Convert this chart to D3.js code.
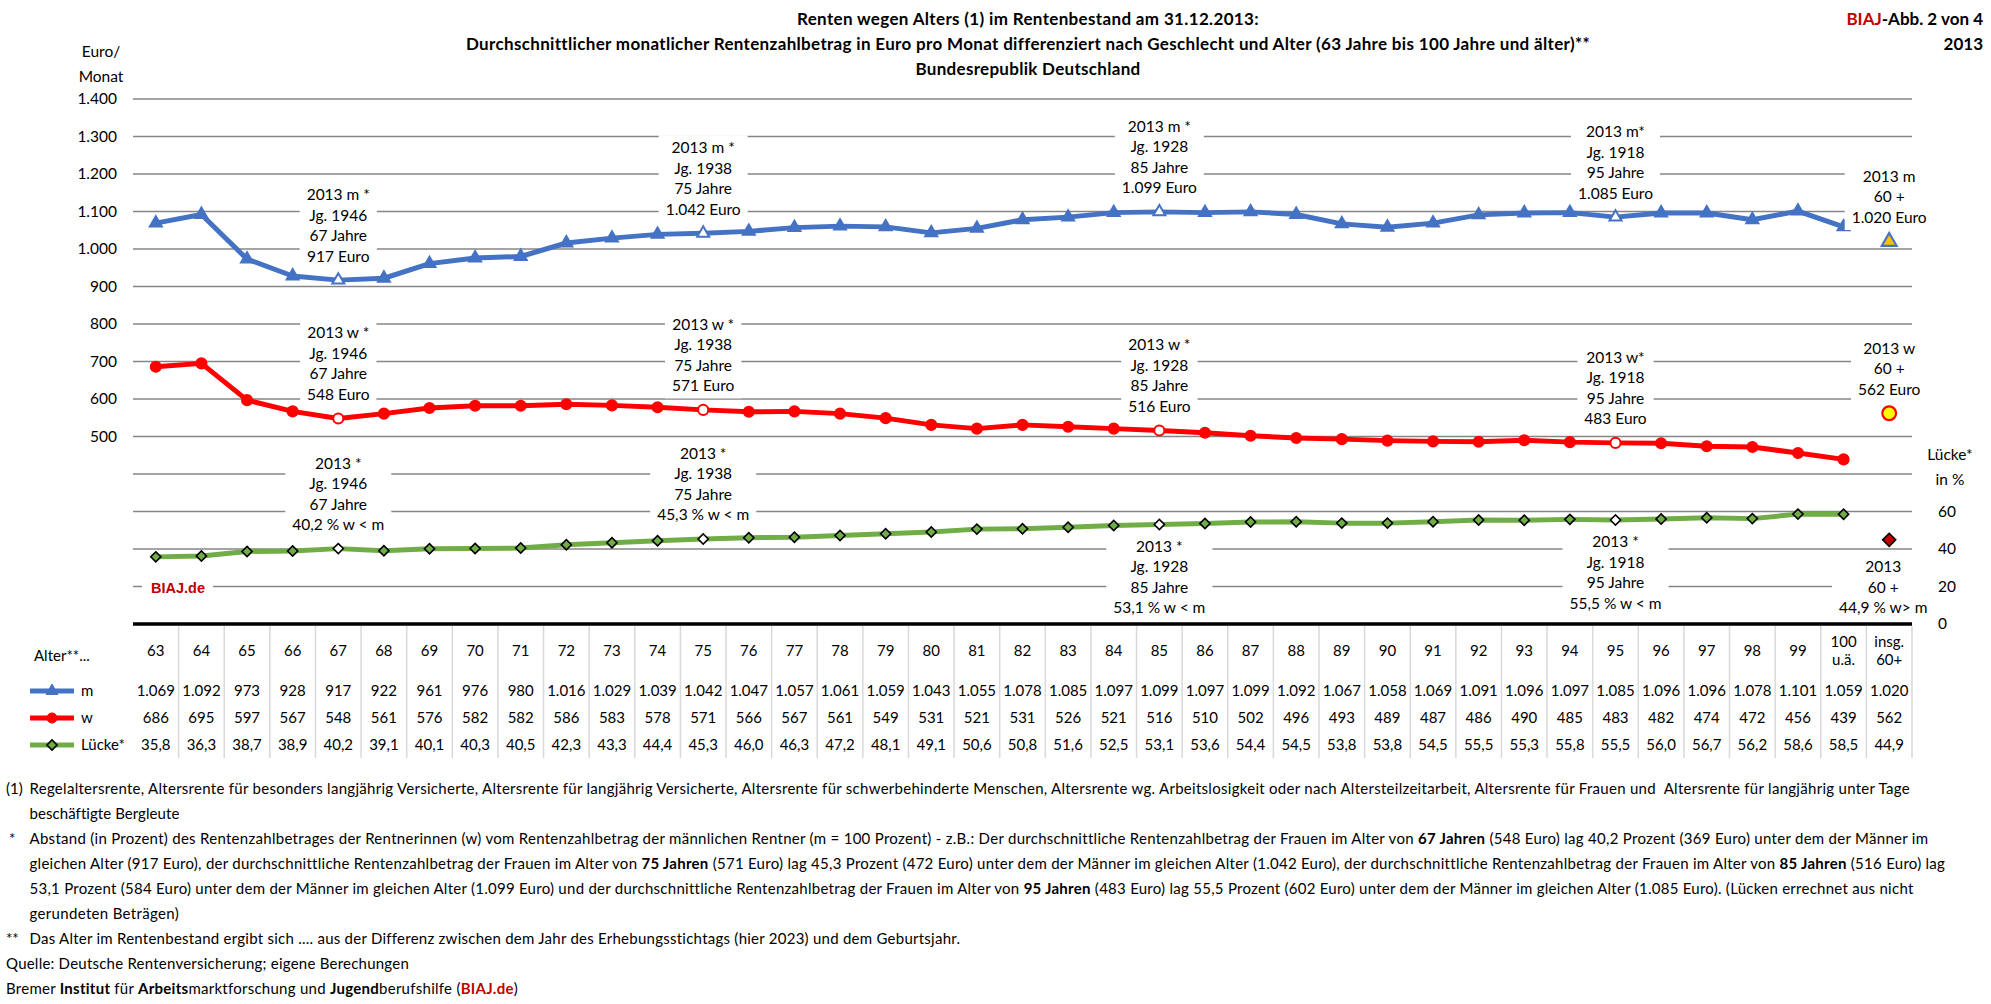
<!DOCTYPE html>
<html><head><meta charset="utf-8">
<script src="https://cdn.jsdelivr.net/npm/d3@7"></script>
<style>
body{margin:0;background:#fff;}
svg{display:block;font-family:Lato,'Open Sans',sans-serif;}
</style></head><body>
<svg id="chart" width="1991" height="1004"></svg>
<script>
// ---------- data ----------
const categories = ["63","64","65","66","67","68","69","70","71","72","73","74","75","76","77","78","79","80",
  "81","82","83","84","85","86","87","88","89","90","91","92","93","94","95","96","97","98","99","100 u.ä.","insg. 60+"];
const mValues = [1069,1092,973,928,917,922,961,976,980,1016,1029,1039,1042,1047,1057,1061,1059,1043,
  1055,1078,1085,1097,1099,1097,1099,1092,1067,1058,1069,1091,1096,1097,1085,1096,1096,1078,1101,1059,1020];
const wValues = [686,695,597,567,548,561,576,582,582,586,583,578,571,566,567,561,549,531,
  521,531,526,521,516,510,502,496,493,489,487,486,490,485,483,482,474,472,456,439,562];
const gapValues = [35.8,36.3,38.7,38.9,40.2,39.1,40.1,40.3,40.5,42.3,43.3,44.4,45.3,46.0,46.3,47.2,48.1,49.1,
  50.6,50.8,51.6,52.5,53.1,53.6,54.4,54.5,53.8,53.8,54.5,55.5,55.3,55.8,55.5,56.0,56.7,56.2,58.6,58.5,44.9];
const highlightAges = ["67","75","85","95"];
const totalCategory = "insg. 60+";
const leftTickValues = [500,600,700,800,900,1000,1100,1200,1300,1400];
const gridValues = [100,200,300,400,500,600,700,800,900,1000,1100,1200,1300,1400];
const rightTickValues = [0,20,40,60];
const surveyYear = 2013;

// ---------- layout ----------
const PL = 133, PR = 1912, PT = 99, PB = 624;
const C = {m:"#4472C4", w:"#FF0000", g:"#70AD47", grid:"#868686", red:"#C00000"};
const svg = d3.select("#chart");
const loc = d3.formatLocale({decimal:",", thousands:".", grouping:[3], currency:["","€"]});
const fInt = loc.format(",d"), fDec = loc.format(",.1f");

const x = d3.scalePoint().domain(categories).range([PL, PR]).padding(0.5);
const step = x.step();
const yL = d3.scaleLinear().domain([0,1400]).range([PB, PT]);
const yR = d3.scaleLinear().domain([0,280]).range([PB, PT]);

const rows = categories.map((c,i)=>({c, m:mValues[i], w:wValues[i], g:gapValues[i]}));
const lineRows = rows.filter(r=>r.c!==totalCategory);
const totalRow = rows.find(r=>r.c===totalCategory);

function fitWidth(sel, target){
  const n = sel.node(); const nat = n.getComputedTextLength();
  const len = n.textContent.length;
  sel.attr("letter-spacing", ((target-nat)/len).toFixed(3));
}

// gridlines
svg.append("g").selectAll("line").data(gridValues).join("line")
  .attr("x1",PL).attr("x2",PR).attr("y1",d=>yL(d)).attr("y2",d=>yL(d))
  .attr("stroke",C.grid).attr("stroke-width",1.5);

// left axis labels
svg.append("g").selectAll("text").data(leftTickValues).join("text")
  .attr("x",117).attr("y",d=>yL(d)).attr("dy","0.35em").attr("text-anchor","end")
  .attr("font-size",15.5).attr("fill","#000").text(d=>fInt(d));
svg.append("text").attr("x",101).attr("y",52).attr("dy","0.35em").attr("text-anchor","middle").attr("font-size",15.5).text("Euro/");
svg.append("text").attr("x",101).attr("y",77).attr("dy","0.35em").attr("text-anchor","middle").attr("font-size",15.5).text("Monat");

// right axis labels
svg.append("g").selectAll("text").data(rightTickValues).join("text")
  .attr("x",1938).attr("y",d=>yR(d)).attr("dy","0.35em").attr("text-anchor","start")
  .attr("font-size",15.5).text(d=>d);
svg.append("text").attr("x",1950).attr("y",455).attr("dy","0.35em").attr("text-anchor","middle").attr("font-size",15.5).text("Lücke*");
svg.append("text").attr("x",1950).attr("y",480).attr("dy","0.35em").attr("text-anchor","middle").attr("font-size",15.5).text("in %");

// watermark
const wm = svg.append("g");
wm.append("rect").attr("x",142).attr("y",578).attr("width",71).attr("height",20).attr("fill","#fff");
wm.append("text").attr("x",151).attr("y",588).attr("dy","0.35em").attr("font-family","'Liberation Sans',Arial,sans-serif")
  .attr("font-weight","bold").attr("font-size",14.5).attr("fill",C.red).text("BIAJ.de");

// x axis line
svg.append("line").attr("x1",PL).attr("x2",PR).attr("y1",PB).attr("y2",PB).attr("stroke","#000").attr("stroke-width",3.5);

// table separators
svg.append("g").selectAll("line").data(categories).join("line")
  .attr("x1",d=>x(d)+step/2).attr("x2",d=>x(d)+step/2).attr("y1",PB+2).attr("y2",758)
  .attr("stroke","#D9D9D9").attr("stroke-width",1.5);

// series lines
const lineM = d3.line().x(d=>x(d.c)).y(d=>yL(d.m));
const lineW = d3.line().x(d=>x(d.c)).y(d=>yL(d.w));
const lineG = d3.line().x(d=>x(d.c)).y(d=>yR(d.g));
svg.append("path").datum(lineRows).attr("d",lineM).attr("fill","none").attr("stroke",C.m).attr("stroke-width",5).attr("stroke-linejoin","round");
svg.append("path").datum(lineRows).attr("d",lineW).attr("fill","none").attr("stroke",C.w).attr("stroke-width",5).attr("stroke-linejoin","round");
svg.append("path").datum(lineRows).attr("d",lineG).attr("fill","none").attr("stroke",C.g).attr("stroke-width",5).attr("stroke-linejoin","round");

// markers
const tri = d3.symbol(d3.symbolTriangle, 62)();
const triBig = d3.symbol(d3.symbolTriangle, 95)();
const circ = d3.symbol(d3.symbolCircle, 80)();
const circBig = d3.symbol(d3.symbolCircle, 150)();
const dia = d3.symbol(d3.symbolSquare, 52)();
const diaBig = d3.symbol(d3.symbolSquare, 85)();
const isHi = c=>highlightAges.includes(c);

svg.append("g").selectAll("path").data(lineRows).join("path")
  .attr("d",tri).attr("transform",d=>`translate(${x(d.c)},${yL(d.m)})`)
  .attr("fill",d=>isHi(d.c)?"#fff":C.m).attr("stroke",C.m).attr("stroke-width",2);
svg.append("g").selectAll("path").data(lineRows).join("path")
  .attr("d",circ).attr("transform",d=>`translate(${x(d.c)},${yL(d.w)})`)
  .attr("fill",d=>isHi(d.c)?"#fff":C.w).attr("stroke",C.w).attr("stroke-width",2);
svg.append("g").selectAll("path").data(lineRows).join("path")
  .attr("d",dia).attr("transform",d=>`translate(${x(d.c)},${yR(d.g)}) rotate(45)`)
  .attr("fill",d=>isHi(d.c)?"#fff":C.g).attr("stroke","#000").attr("stroke-width",1.6);
// total markers
svg.append("path").attr("d",triBig).attr("transform",`translate(${x(totalRow.c)},${yL(totalRow.m)})`)
  .attr("fill","#FFC000").attr("stroke",C.m).attr("stroke-width",2.2);
svg.append("path").attr("d",circBig).attr("transform",`translate(${x(totalRow.c)},${yL(totalRow.w)})`)
  .attr("fill","#FFFF00").attr("stroke",C.w).attr("stroke-width",2.2);
svg.append("path").attr("d",diaBig).attr("transform",`translate(${x(totalRow.c)},${yR(totalRow.g)}) rotate(45)`)
  .attr("fill",C.red).attr("stroke","#000").attr("stroke-width",1.6);

// annotations
const annots = [];
highlightAges.forEach(a=>{
  const r = rows.find(d=>d.c===a);
  const star = a==="95" ? "*" : " *";
  annots.push({c:a, y:yL(r.m), pos:"above", off:24, lines:[`${surveyYear} m${star}`, `Jg. ${surveyYear-(+a)}`, `${a} Jahre`, `${fInt(r.m)} Euro`]});
  annots.push({c:a, y:yL(r.w), pos:"above", off:24, lines:[`${surveyYear} w${star}`, `Jg. ${surveyYear-(+a)}`, `${a} Jahre`, `${fInt(r.w)} Euro`]});
  const below = (a==="85"||a==="95");
  annots.push({c:a, y:yR(r.g), pos:below?"below":"above", off:below?22:24, lines:[`${surveyYear} *`, `Jg. ${surveyYear-(+a)}`, `${a} Jahre`, `${fDec(r.g)} % w < m`]});
});
annots.push({c:totalCategory, y:yL(totalRow.m), pos:"above", off:24, lines:[`${surveyYear} m`,"60 +",`${fInt(totalRow.m)} Euro`]});
annots.push({c:totalCategory, y:yL(totalRow.w), pos:"above", off:24, lines:[`${surveyYear} w`,"60 +",`${fInt(totalRow.w)} Euro`]});
annots.push({c:totalCategory, y:yR(totalRow.g), pos:"below", off:27, dx:-6, lines:[`${surveyYear}`,"60 +",`${fDec(totalRow.g)} % w> m`]});

const LH = 20.5;
annots.forEach(a=>{
  const g = svg.append("g");
  const n = a.lines.length;
  const cx = x(a.c) + (a.dx||0);
  const ys = a.lines.map((l,i)=> a.pos==="above" ? a.y - a.off - (n-1-i)*LH : a.y + a.off + i*LH);
  const rect = g.append("rect").attr("fill","#fff");
  let maxW = 0;
  a.lines.forEach((l,i)=>{
    const t = g.append("text").attr("x",cx).attr("y",ys[i]).attr("dy","0.35em").attr("text-anchor","middle")
      .attr("font-size",15.5).attr("fill","#000").text(l);
    maxW = Math.max(maxW, t.node().getComputedTextLength());
  });
  rect.attr("x",cx-maxW/2-7).attr("width",maxW+14).attr("y",ys[0]-12.5).attr("height",ys[n-1]-ys[0]+25);
});

// ---------- data table ----------
const T = svg.append("g").attr("font-size",15).attr("fill","#000");
T.append("text").attr("x",34).attr("y",656).attr("dy","0.35em").text("Alter**...");
categories.forEach(c=>{
  const parts = c.split(" ");
  if(parts.length===1){
    T.append("text").attr("x",x(c)).attr("y",651).attr("dy","0.35em").attr("text-anchor","middle").text(c);
  } else {
    parts.forEach((p,i)=>T.append("text").attr("x",x(c)).attr("y",642+i*18).attr("dy","0.35em").attr("text-anchor","middle").text(p));
  }
});
const tableRows = [
  {key:"m", y:691, color:C.m, sym:tri, fill:C.m, stroke:C.m, rot:0, fmt:d=>fInt(d.m)},
  {key:"w", y:718, color:C.w, sym:circ, fill:C.w, stroke:C.w, rot:0, fmt:d=>fInt(d.w)},
  {key:"Lücke*", y:745, color:C.g, sym:dia, fill:C.g, stroke:"#000", rot:45, fmt:d=>fDec(d.g)}
];
tableRows.forEach(tr=>{
  T.append("line").attr("x1",30).attr("x2",74).attr("y1",tr.y).attr("y2",tr.y).attr("stroke",tr.color).attr("stroke-width",5);
  T.append("path").attr("d",tr.sym).attr("transform",`translate(52,${tr.y}) rotate(${tr.rot})`).attr("fill",tr.fill).attr("stroke",tr.stroke).attr("stroke-width",tr.rot?1.6:1);
  T.append("text").attr("x",81).attr("y",tr.y).attr("dy","0.35em").text(tr.key);
  rows.forEach(r=>{
    const t = T.append("text").attr("x",x(r.c)).attr("y",tr.y).attr("dy","0.35em").attr("text-anchor","middle").text(tr.fmt(r));
    const w = t.node().getComputedTextLength();
    if(w > step - 4) t.attr("letter-spacing", ((step-4-w)/t.text().length).toFixed(3));
  });
});

// ---------- titles ----------
const titleLines = ["Renten wegen Alters (1) im Rentenbestand am 31.12.2013:",
  "Durchschnittlicher monatlicher Rentenzahlbetrag in Euro pro Monat differenziert nach Geschlecht  und Alter (63 Jahre bis 100 Jahre und älter)**",
  "Bundesrepublik Deutschland"];
const titleWidths = [462, 1123, 225];
titleLines.forEach((t,i)=>{
  const s = svg.append("text").attr("x",1028).attr("y",19+i*25).attr("dy","0.35em").attr("text-anchor","middle")
    .attr("font-weight","bold").attr("font-size",17).attr("fill","#000").text(t);
  fitWidth(s, titleWidths[i]);
});
const tr1 = svg.append("text").attr("x",1983).attr("y",19).attr("dy","0.35em").attr("text-anchor","end").attr("font-weight","bold").attr("font-size",17);
tr1.append("tspan").attr("fill",C.red).text("BIAJ");
tr1.append("tspan").attr("fill","#000").text("-Abb. 2 von 4");
svg.append("text").attr("x",1983).attr("y",44).attr("dy","0.35em").attr("text-anchor","end").attr("font-weight","bold").attr("font-size",17).text("2013");

// ---------- footnotes ----------
const notes = [
  {mark:"(1)", segs:[["Regelaltersrente, Altersrente für besonders langjährig Versicherte, Altersrente für langjährig Versicherte, Altersrente für schwerbehinderte Menschen, Altersrente wg. Arbeitslosigkeit oder nach Altersteilzeitarbeit, Altersrente für Frauen und  Altersrente für langjährig unter Tage"]], end:1910},
  {segs:[["beschäftigte Bergleute"]], end:179},
  {mark:"*", segs:[["Abstand (in Prozent) des Rentenzahlbetrages der Rentnerinnen (w) vom Rentenzahlbetrag der männlichen Rentner (m = 100 Prozent) - z.B.: Der durchschnittliche Rentenzahlbetrag der Frauen im Alter von "],["67 Jahren",1],[" (548 Euro) lag 40,2 Prozent (369 Euro) unter dem der Männer im"]], end:1928},
  {segs:[["gleichen Alter (917 Euro), der durchschnittliche Rentenzahlbetrag der Frauen im Alter von "],["75 Jahren",1],[" (571 Euro) lag 45,3 Prozent (472 Euro) unter dem der Männer im gleichen Alter (1.042 Euro), der durchschnittliche Rentenzahlbetrag der Frauen im Alter von "],["85 Jahren",1],[" (516 Euro) lag"]], end:1944},
  {segs:[["53,1 Prozent (584 Euro) unter dem der Männer im gleichen Alter (1.099 Euro) und der durchschnittliche Rentenzahlbetrag der Frauen im Alter von "],["95 Jahren",1],[" (483 Euro) lag 55,5 Prozent (602 Euro) unter dem der Männer im gleichen Alter (1.085 Euro). (Lücken errechnet aus nicht"]], end:1913},
  {segs:[["gerundeten Beträgen)"]], end:179},
  {mark:"**", segs:[["Das Alter im Rentenbestand ergibt sich .... aus der Differenz zwischen dem Jahr des Erhebungsstichtags (hier 2023) und dem Geburtsjahr."]], end:960},
  {flush:true, segs:[["Quelle: Deutsche Rentenversicherung; eigene Berechungen"]], end:409},
  {flush:true, segs:[["Bremer "],["Institut",1],[" für "],["Arbeits",1],["marktforschung und "],["Jugend",1],["berufshilfe ("],["BIAJ.de",1,C.red],[")"]], end:518}
];
notes.forEach((n,i)=>{
  const y = 789 + i*25;
  if(n.mark) svg.append("text").attr("x",n.mark==="*"?9:6).attr("y",y).attr("dy","0.35em").attr("font-size",15).text(n.mark);
  const sx = n.flush ? 6 : 29.5;
  const t = svg.append("text").attr("x",sx).attr("y",y).attr("dy","0.35em").attr("font-size",15).attr("fill","#000").style("white-space","pre");
  n.segs.forEach(s=>t.append("tspan").attr("font-weight",s[1]?"bold":null).attr("fill",s[2]||null).text(s[0]));
  fitWidth(t, n.end - sx);
});
</script>
</body></html>
